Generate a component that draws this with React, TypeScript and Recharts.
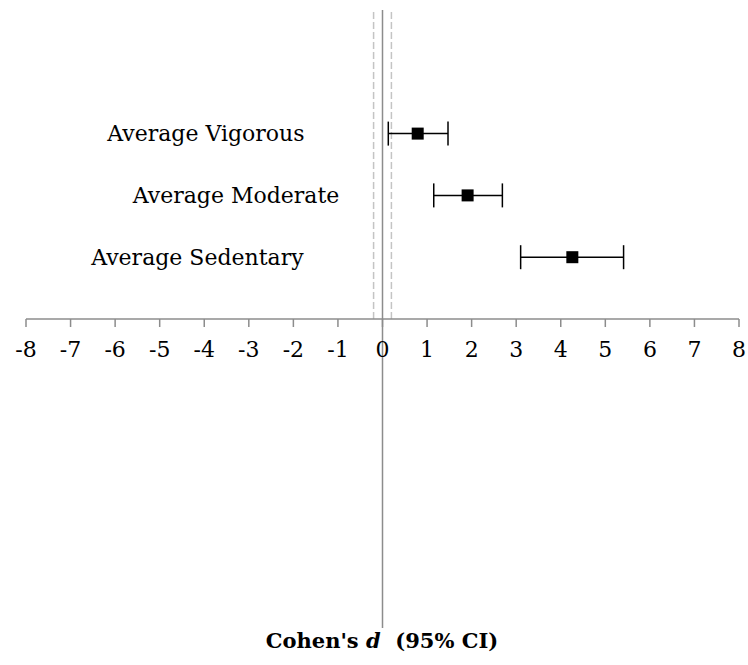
import {
  ScatterChart,
  Scatter,
  XAxis,
  YAxis,
  ErrorBar,
  ReferenceLine,
  ReferenceDot,
} from 'recharts';

const categories = ['Average Vigorous', 'Average Moderate', 'Average Sedentary'];
const effect = [0.79, 1.91, 4.26];
const ciLow = [0.13, 1.15, 3.1];
const ciHigh = [1.47, 2.69, 5.41];
const rowPos = [3, 2, 1];
// x value (Cohen's d) where each row label ends
const labelEnd = [-1.75, -0.97, -1.77];
const xTicks = [-8, -7, -6, -5, -4, -3, -2, -1, 0, 1, 2, 3, 4, 5, 6, 7, 8];
const nullBand = [-0.2, 0.2];

const FONT = '"DejaVu Serif", serif';
const AXIS = '#8c8c8c';

const data = categories.map((name, i) => ({
  name,
  d: effect[i],
  y: rowPos[i],
  err: [effect[i] - ciLow[i], ciHigh[i] - effect[i]],
}));

// filled square marker, like Excel's
const SquareMarker = (props: any) => {
  const { cx, cy } = props;
  return <rect x={cx - 6} y={cy - 6} width={12} height={12} fill="#000" />;
};

export default function App() {
  return (
    <div style={{ position: 'absolute', left: 0, top: 0, width: 748, height: 665, background: '#fff' }}>
      <ScatterChart width={748} height={665} margin={{ top: 10, right: 9, bottom: 306, left: 26 }}>
        <XAxis
          dataKey="d"
          type="number"
          domain={[-8, 8]}
          ticks={xTicks}
          interval={0}
          allowDataOverflow
          axisLine={{ stroke: AXIS, strokeWidth: 1.5 }}
          tickLine={{ stroke: AXIS, strokeWidth: 1.5 }}
          tickSize={8}
          tickMargin={14}
          height={40}
          tick={{ fill: '#000', fontSize: 22, fontFamily: FONT }}
        />
        <YAxis dataKey="y" type="number" domain={[0, 5]} hide />
        {nullBand.map((v) => (
          <ReferenceLine key={v} x={v} stroke="#c4c4c4" strokeWidth={1.5} strokeDasharray="7 3" />
        ))}
        <ReferenceLine
          segment={[{ x: 0, y: 5 }, { x: 0, y: -5 }]}
          ifOverflow="visible"
          stroke={AXIS}
          strokeWidth={1.5}
        />
        {categories.map((name, i) => (
          <ReferenceDot
            key={name}
            x={labelEnd[i]}
            y={rowPos[i]}
            r={0}
            fill="none"
            stroke="none"
            label={{ value: name, position: 'left', offset: 0, fill: '#000', fontSize: 22, fontFamily: FONT }}
          />
        ))}
        <Scatter data={data} fill="#000" shape={SquareMarker} isAnimationActive={false}>
          <ErrorBar dataKey="err" direction="x" width={12} stroke="#000" strokeWidth={1.5} />
        </Scatter>
      </ScatterChart>
      <div
        style={{
          position: 'absolute',
          top: 628,
          left: 0,
          width: 764,
          textAlign: 'center',
          fontFamily: FONT,
          fontWeight: 'bold',
          fontSize: 21,
          color: '#000',
          whiteSpace: 'pre',
        }}
      >
        Cohen's <i>d</i>  (95% CI)
      </div>
    </div>
  );
}
